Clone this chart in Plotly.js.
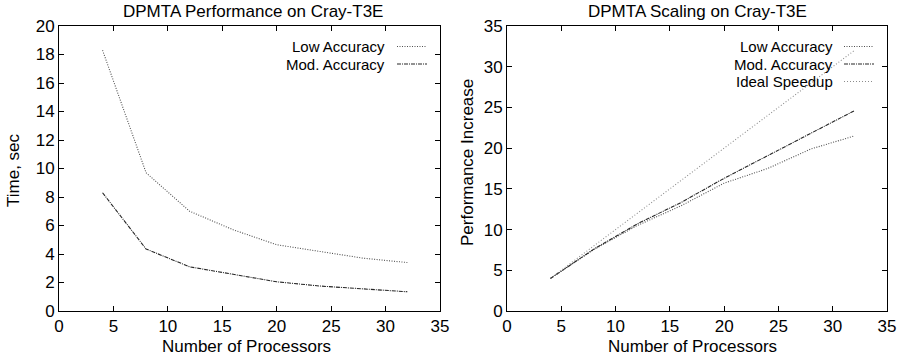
<!DOCTYPE html>
<html><head><meta charset="utf-8">
<script src="https://cdn.plot.ly/plotly-3.0.1.min.js"></script>
<style>html,body{margin:0;padding:0;background:#fff}#chart{width:908px;height:360px}</style>
</head><body><div id="chart"></div>
<script>
// Data
const processors = [4, 8, 12, 16, 20, 24, 28, 32];
const timeLowAccuracy = [18.3, 9.7, 7.0, 5.7, 4.65, 4.2, 3.7, 3.4];
const timeModAccuracy = [8.3, 4.35, 3.1, 2.55, 2.05, 1.75, 1.55, 1.35];
const speedupLowAccuracy = [4, 7.55, 10.5, 12.9, 15.7, 17.5, 19.9, 21.5];
const speedupModAccuracy = [4, 7.6, 10.7, 13.3, 16.3, 19.1, 21.8, 24.6];
const speedupIdeal = [4, 8, 12, 16, 20, 24, 28, 32];
const xTickVals = [0, 5, 10, 15, 20, 25, 30, 35];
const timeTickVals = [0, 2, 4, 6, 8, 10, 12, 14, 16, 18, 20];
const perfTickVals = [0, 5, 10, 15, 20, 25, 30, 35];
const leftTitle = 'DPMTA Performance on Cray-T3E';
const rightTitle = 'DPMTA Scaling on Cray-T3E';
const xTitle = 'Number of Processors';
const leftYTitle = 'Time, sec';
const rightYTitle = 'Performance Increase';
const leftLegend = ['Low Accuracy', 'Mod. Accuracy'];
const rightLegend = ['Low Accuracy', 'Mod. Accuracy', 'Ideal Speedup'];

const W = 908, H = 360;
const FONT = 'Liberation Sans, Arial, Helvetica, sans-serif';
const FS = 17;
const LFS = 15;
const px = v => v / W;
const py = v => 1 - v / H;

const styleLow = {color: '#505050', width: 1.1, dash: '1px,1.5px'};
const styleMod = {color: '#262626', width: 1.1, dash: '4px,1px,1px,1px'};
const styleIdeal = {color: '#8c8c8c', width: 1.1, dash: '1px,2px'};

const traces = [
  {x: processors, y: timeLowAccuracy, xaxis: 'x', yaxis: 'y', mode: 'lines', line: styleLow, name: leftLegend[0]},
  {x: processors, y: timeModAccuracy, xaxis: 'x', yaxis: 'y', mode: 'lines', line: styleMod, name: leftLegend[1]},
  {x: processors, y: speedupLowAccuracy, xaxis: 'x2', yaxis: 'y2', mode: 'lines', line: styleLow, name: rightLegend[0]},
  {x: processors, y: speedupModAccuracy, xaxis: 'x2', yaxis: 'y2', mode: 'lines', line: styleMod, name: rightLegend[1]},
  {x: processors, y: speedupIdeal, xaxis: 'x2', yaxis: 'y2', mode: 'lines', line: styleIdeal, name: rightLegend[2]}
];

const axisCommon = {
  showline: true, linecolor: '#000', linewidth: 1, mirror: 'ticks',
  ticks: 'inside', ticklen: 5, tickcolor: '#000', tickwidth: 1,
  showgrid: false, zeroline: false, automargin: false,
  tickfont: {family: FONT, size: FS, color: '#000'}, tickmode: 'array'
};

const plotTop = 26, plotBottom = 311;
const L = {x0: 59, x1: 440}, R = {x0: 507, x1: 887};

const layout = {
  width: W, height: H, margin: {l: 0, r: 0, t: 0, b: 0},
  paper_bgcolor: '#fff', plot_bgcolor: '#fff', showlegend: false,
  font: {family: FONT, size: FS, color: '#000'},
  xaxis: Object.assign({}, axisCommon, {domain: [px(L.x0), px(L.x1)], range: [0, 35], tickvals: xTickVals, anchor: 'y'}),
  yaxis: Object.assign({}, axisCommon, {domain: [py(plotBottom), py(plotTop)], range: [0, 20], tickvals: timeTickVals, anchor: 'x'}),
  xaxis2: Object.assign({}, axisCommon, {domain: [px(R.x0), px(R.x1)], range: [0, 35], tickvals: xTickVals, anchor: 'y2'}),
  yaxis2: Object.assign({}, axisCommon, {domain: [py(plotBottom), py(plotTop)], range: [0, 35], tickvals: perfTickVals, anchor: 'x2'}),
  annotations: [], shapes: []
};

function ann(text, x, y, opts, size) {
  layout.annotations.push(Object.assign({text: text, x: px(x), y: py(y), xref: 'paper', yref: 'paper',
    showarrow: false, borderpad: 0, font: {family: FONT, size: size || FS, color: '#000'}, xanchor: 'center', yanchor: 'middle'}, opts || {}));
}
ann(leftTitle, (L.x0 + L.x1) / 2 + 3, 11);
ann(rightTitle, (R.x0 + R.x1) / 2, 11);
ann(xTitle, (L.x0 + L.x1) / 2 - 3, 346);
ann(xTitle, (R.x0 + R.x1) / 2 - 5, 346);
ann(leftYTitle, 13, 170, {textangle: -90});
ann(rightYTitle, 468, 163, {textangle: -90});

function legendRow(text, textRight, y, s0, s1, style) {
  ann(text, textRight, y, {xanchor: 'right'}, LFS);
  layout.shapes.push({type: 'line', xref: 'paper', yref: 'paper', x0: px(s0), x1: px(s1), y0: py(y), y1: py(y),
    line: {color: style.color, width: style.width, dash: style.dash}});
}
legendRow(leftLegend[0], 386, 46.5, 397, 427, styleLow);
legendRow(leftLegend[1], 386, 64, 397, 427, styleMod);
legendRow(rightLegend[0], 834, 46.5, 844, 874, styleLow);
legendRow(rightLegend[1], 834, 64, 844, 874, styleMod);
legendRow(rightLegend[2], 834, 81.5, 844, 874, styleIdeal);

Plotly.newPlot('chart', traces, layout, {staticPlot: true, displayModeBar: false});
</script></body></html>
